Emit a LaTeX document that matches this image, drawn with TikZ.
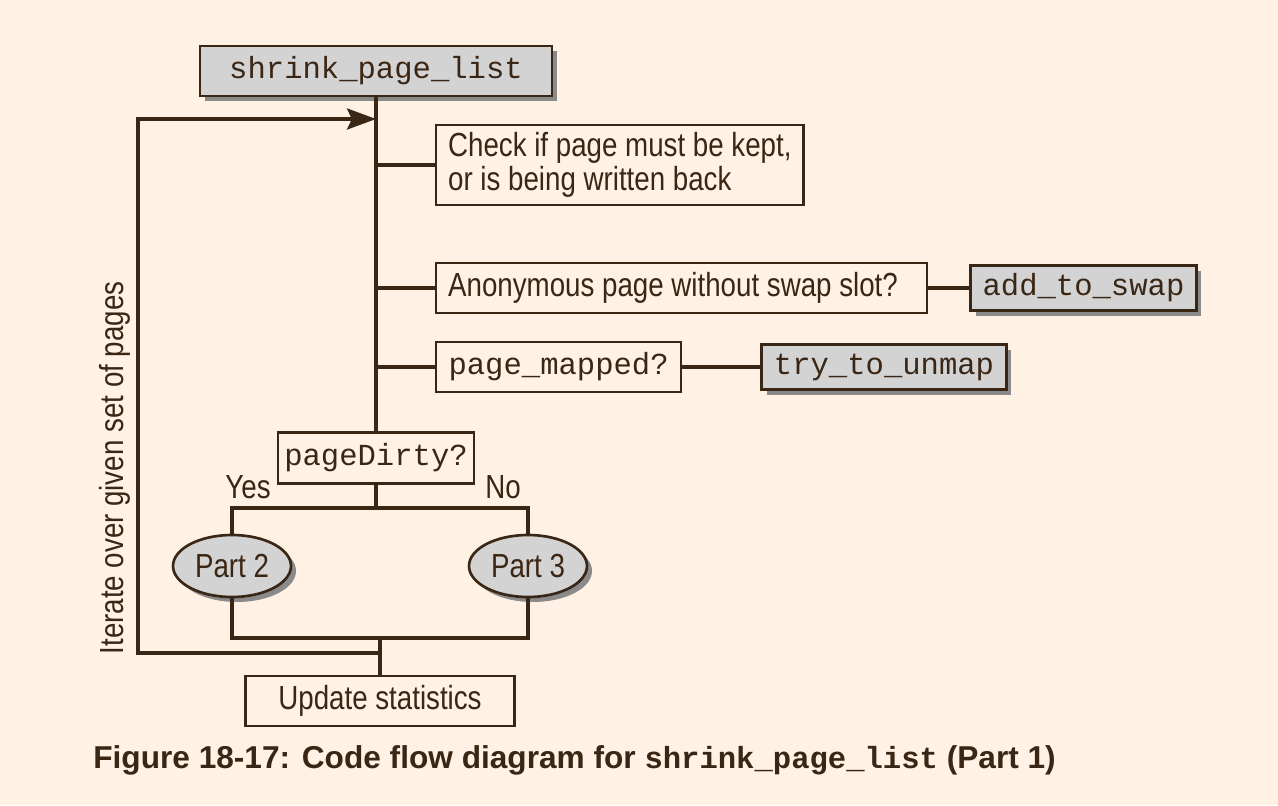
\documentclass[tikz,border=0pt]{standalone}
\usepackage{fontspec}
\setmainfont{Liberation Sans}[FakeStretch=0.83]
\newfontfamily\capfont{Liberation Sans}
\setmonofont{Liberation Mono}
\usepackage{xcolor}
\usetikzlibrary{positioning,arrows.meta,shapes.geometric,shadows}

\definecolor{bgcream}{HTML}{FFF1E3}
\definecolor{ink}{HTML}{3A2614}
\definecolor{boxgray}{HTML}{D3D3D3}
\definecolor{shadegray}{HTML}{8A8A8A}

\begin{document}
\begin{tikzpicture}[
    x=0.02cm, y=-0.02cm,
    font=\fontsize{19}{19.3}\selectfont, text=ink,
    fnbox/.style={draw=ink, line width=1.5pt, fill=boxgray, minimum height=1cm,
                  font=\ttfamily\fontsize{17.4}{18}\selectfont,
                  drop shadow={shadow xshift=0.1cm, shadow yshift=-0.1cm,
                               fill=shadegray, opacity=1}},
    txtbox/.style={draw=ink, line width=1.3pt, fill=bgcream, minimum height=1cm,
                   align=flush left, inner xsep=0.24cm},
    partnode/.style={draw=ink, line width=1.5pt, fill=boxgray, ellipse, inner sep=0pt,
                     minimum width=2.36cm, minimum height=1.24cm,
                     drop shadow={shadow xshift=0.1cm, shadow yshift=-0.1cm,
                                  fill=shadegray, opacity=1}},
    wire/.style={draw=ink, line width=2.2pt},
    flow/.style={wire, -{Stealth[length=0.58cm, width=0.42cm, inset=0.1cm]}},
    lbl/.style={inner sep=0pt}
]
\fill[bgcream] (0,0) rectangle (1278,805);
\useasboundingbox (0,0) rectangle (1278,805);

% entry point and checks
\node[fnbox, minimum width=7.04cm] (shrink) at (376,71) {shrink\_page\_list};
\node[txtbox, anchor=west, minimum width=7.2cm, minimum height=1.6cm] (check) at (435,165)
     {Check if page must be kept,\\or is being written back};
\node[txtbox, anchor=west, text width=9.34cm] (anon) at (435,288)
     {Anonymous page without swap slot?};
\node[fnbox, right=0.82cm of anon, minimum width=4.52cm, minimum height=0.9cm] (swap)
     {add\_to\_swap};
\node[txtbox, anchor=west, minimum width=4.9cm, font=\ttfamily\fontsize{17.4}{18}\selectfont] (mapped) at (435,367)
     {page\_mapped?};
\node[fnbox, right=1.56cm of mapped, minimum width=4.9cm, minimum height=0.9cm] (unmap)
     {try\_to\_unmap};

% decision and parts
\node[txtbox, minimum width=3.92cm, minimum height=1.02cm, inner xsep=0.1cm,
      font=\ttfamily\fontsize{17.4}{18}\selectfont] (dirty) at (376,458) {pageDirty?};
\node[lbl] (yes) at (248,487) {Yes};
\node[lbl] (no) at (503,487) {No};
\node[partnode] (part2) at (232,566) {Part 2};
\node[partnode] (part3) at (528,566) {Part 3};
\node[txtbox, minimum width=5.38cm, align=center] (update) at (380,701) {Update statistics};

\node[lbl, rotate=90] (iterate) at (115,468) {Iterate over given set of pages};

\coordinate (split) at (376,508);
\coordinate (merge) at (380,638);
\coordinate (loopfoot) at (380,653);
\coordinate (loopcorner) at (138,119);

% spine and branches
\draw[wire] (shrink.south) -- (dirty.north);
\draw[wire] (dirty.north |- check.west) -- (check.west);
\draw[wire] (dirty.north |- anon.west) -- (anon.west);
\draw[wire] (dirty.north |- mapped.west) -- (mapped.west);
\draw[wire] (anon) -- (swap);
\draw[wire] (mapped) -- (unmap);

% split into parts and merge
\draw[wire] (dirty.south) -- (split);
\draw[wire] (part2.north) -- (part2.north |- split) -- (part3.north |- split) -- (part3.north);
\draw[wire] (part2.south) -- (part2.south |- merge) -- (part3.south |- merge) -- (part3.south);
\draw[wire] (merge) -- (update.north);

% loop back
\draw[flow] (loopfoot) -| (loopcorner) -- (dirty.north |- loopcorner);

% caption
\node[lbl, anchor=west, font=\capfont\bfseries\fontsize{18}{20}\selectfont] (caption) at (93,760)
     {Figure 18-17: Code flow diagram for {\ttfamily\bfseries\fontsize{17.4}{18}\selectfont shrink\_page\_list} (Part 1)};
\end{tikzpicture}
\end{document}
